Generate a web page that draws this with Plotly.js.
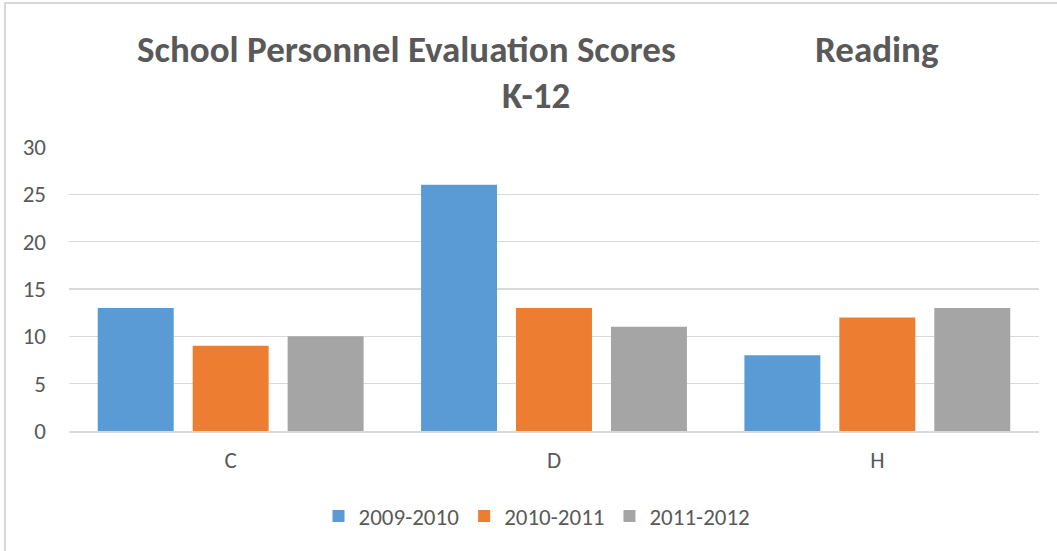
<!DOCTYPE html>
<html>
<head>
<meta charset="utf-8">
<script src="https://cdn.plot.ly/plotly-3.0.1.min.js"></script>
<style>
html,body{margin:0;padding:0;background:#fff;overflow:hidden;}
#wrap{position:relative;width:1057px;height:551px;}
#chart{position:absolute;left:0;top:0;width:1057px;height:551px;}
#frame{position:absolute;left:4px;top:2px;width:1200px;height:700px;border-left:2px solid #d9d9d9;border-top:2px solid #d9d9d9;pointer-events:none;}
</style>
</head>
<body>
<div id="wrap"><div id="chart"></div><div id="frame"></div></div>
<script>
const categories = ["C", "D", "H"];
const seriesNames = ["2009-2010", "2010-2011", "2011-2012"];
const values2009 = [13, 26, 8];
const values2010 = [9, 13, 12];
const values2011 = [10, 11, 13];
const yTicks = [0, 5, 10, 15, 20, 25, 30];
const titleLine1a = "School Personnel Evaluation Scores";
const titleLine1b = "Reading";
const titleLine2 = "K-12";

const colors = ["#5B9BD5", "#ED7D31", "#A5A5A5"];
const seriesValues = [values2009, values2010, values2011];
const FONT = "Carlito, Calibri, Lato, 'Open Sans', sans-serif";
const TXT = "#595959";

const traces = seriesValues.map((v, i) => ({
  type: "bar",
  name: seriesNames[i],
  x: categories,
  y: v,
  marker: {color: colors[i], line: {width: 0}},
  hoverinfo: "x+y+name"
}));

// plot area: left 69, right 1039, top 147, bottom 431
const L = 69, R = 1039, T = 147, B = 431;
const px = p => (p - L) / (R - L);
const py = p => (B - p) / (B - T);

const layout = {
  width: 1057, height: 551,
  margin: {l: 69, r: 18, t: 147, b: 120, pad: 0},
  paper_bgcolor: "#ffffff",
  plot_bgcolor: "#ffffff",
  font: {family: FONT, color: TXT, size: 23},
  barmode: "group",
  bargap: 0.119,
  bargroupgap: 0.2,
  showlegend: true,
  legend: {
    orientation: "h",
    x: px(537), xanchor: "center", xref: "paper",
    y: py(516), yanchor: "middle",
    font: {family: FONT, size: 23, color: TXT},
    itemwidth: 30,
    traceorder: "normal"
  },
  xaxis: {
    type: "category",
    showgrid: false,
    showline: true, linecolor: "#d9d9d9", linewidth: 2,
    ticks: "", ticklabelstandoff: 7,
    tickfont: {family: FONT, size: 23, color: TXT},
    zeroline: false,
    fixedrange: true
  },
  yaxis: {
    range: [0, 30],
    tickvals: yTicks,
    ticktext: yTicks.map(String),
    showgrid: true, gridcolor: "#d9d9d9", gridwidth: 1.3,
    showline: false, zeroline: false,
    ticks: "", ticklabelstandoff: 22,
    tickfont: {family: FONT, size: 23, color: TXT},
    fixedrange: true
  },
  annotations: [
    {text: "<b>" + titleLine1a + "</b>", xref: "paper", yref: "paper", x: px(406), y: py(49),
     xanchor: "center", yanchor: "middle", showarrow: false, font: {family: FONT, size: 37, color: TXT}},
    {text: "<b>" + titleLine1b + "</b>", xref: "paper", yref: "paper", x: px(877), y: py(49),
     xanchor: "center", yanchor: "middle", showarrow: false, font: {family: FONT, size: 37, color: TXT}},
    {text: "<b>" + titleLine2 + "</b>", xref: "paper", yref: "paper", x: px(536), y: py(96),
     xanchor: "center", yanchor: "middle", showarrow: false, font: {family: FONT, size: 37, color: TXT}}
  ]
};

Plotly.newPlot("chart", traces, layout, {displayModeBar: false, staticPlot: true});
</script>
</body>
</html>
